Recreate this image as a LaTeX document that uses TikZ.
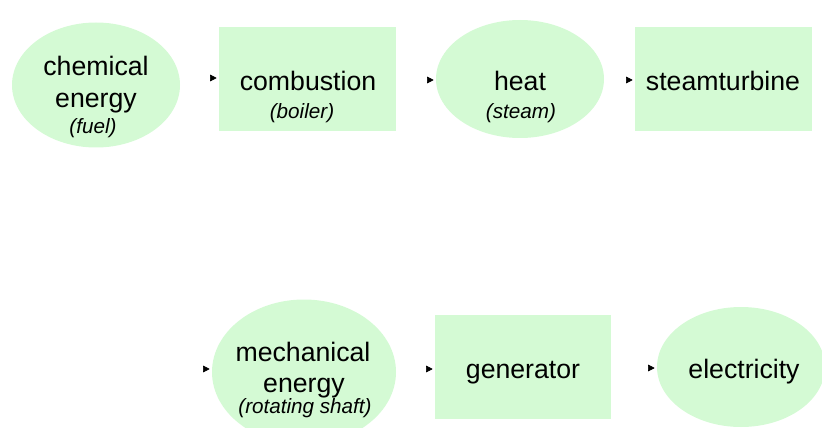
\documentclass[tikz,border=0pt]{standalone}
\usepackage{fontspec}
\setmainfont{Liberation Sans}
\usetikzlibrary{shapes.geometric,arrows.meta}
\definecolor{nodegreen}{RGB}{212,250,212}
\tikzset{
  shapebase/.style={fill=nodegreen,draw=none,inner sep=0pt},
  ell/.style={shapebase,ellipse},
  box/.style={shapebase,rectangle},
  lbl/.style={anchor=base,inner sep=0pt,font=\fontsize{20}{24}\selectfont},
  sublbl/.style={anchor=base,inner sep=0pt,font=\fontsize{15.5}{18}\selectfont\itshape},
  conn/.style={draw=white,line width=0.5pt,shorten >=1.5pt,
    -{Triangle[length=5pt,width=5pt,color=black]}}
}
\begin{document}
\begin{tikzpicture}[x=0.75pt,y=-0.75pt]
\clip (0,0) rectangle (822,428);
% shapes
\node[ell,minimum width=168*0.75pt,minimum height=125*0.75pt] (chem) at (96,85) {};
\node[box,minimum width=177*0.75pt,minimum height=104*0.75pt] (comb) at (307.5,79) {};
\node[ell,minimum width=168*0.75pt,minimum height=118*0.75pt] (heat) at (520,79) {};
\node[box,minimum width=177*0.75pt,minimum height=104*0.75pt] (steam) at (723.5,79) {};
\node[ell,minimum width=184*0.75pt,minimum height=145*0.75pt] (mech) at (304,372) {};
\node[box,minimum width=176*0.75pt,minimum height=104*0.75pt] (gen) at (523,367) {};
\node[ell,minimum width=168*0.75pt,minimum height=120*0.75pt] (elec) at (741,367) {};
% labels
\node[lbl] (t1a) at (96,76) {chemical};
\node[lbl] (t1b) at (96,108) {energy};
\node[sublbl] (t1c) at (93,134) {(fuel)};
\node[lbl] (t2a) at (308,91) {combustion};
\node[sublbl] (t2b) at (302,118) {(boiler)};
\node[lbl] (t3a) at (520,91) {heat};
\node[sublbl] (t3b) at (521,118) {(steam)};
\node[lbl] (t4a) at (723,91) {steamturbine};
\node[lbl] (t5a) at (303,361) {mechanical};
\node[lbl] (t5b) at (304,392) {energy};
\node[sublbl] (t5c) at (305,413) {(rotating shaft)};
\node[lbl] (t6a) at (523,378) {generator};
\node[lbl] (t7a) at (744,378) {electricity};
% connectors
\coordinate (r1) at (723,230);
\coordinate (r2) at (190,230);
\coordinate (r3) at (190,369);
\draw[conn] (chem.east |- 0,78) -- (comb.west |- 0,78);
\draw[conn] (comb.east |- 0,80) -- (heat.west |- 0,80);
\draw[conn] (heat.east |- 0,80) -- (steam.west |- 0,80);
\draw[conn] (steam.south) -- (r1) -- (r2) -- (r3) -- (mech.west |- r3);
\draw[conn] (mech.east |- 0,369) -- (gen.west |- 0,369);
\draw[conn] (gen.east |- 0,368) -- (elec.west |- 0,368);
\end{tikzpicture}
\end{document}
